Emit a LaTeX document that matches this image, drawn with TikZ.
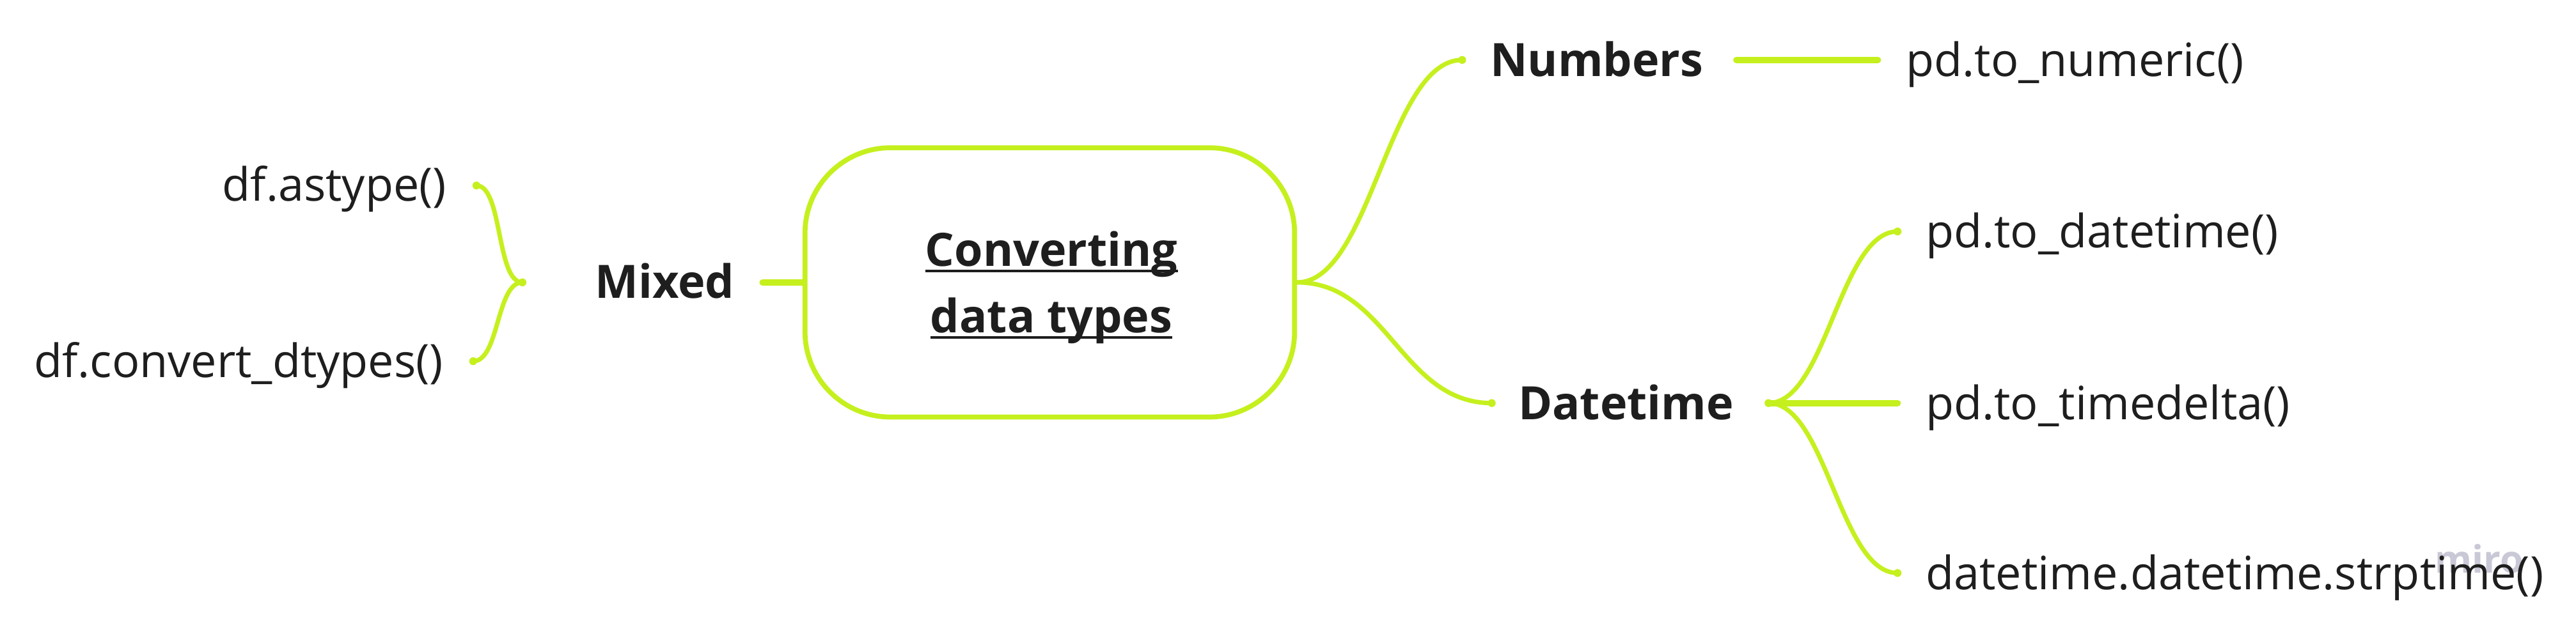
\documentclass[tikz,border=0pt]{standalone}
\usepackage{fontspec}
\setmainfont{Open Sans}
\definecolor{lime}{RGB}{197,240,30}
\definecolor{txt}{RGB}{30,30,30}
\definecolor{mirogray}{RGB}{200,200,214}
\newcommand\myul[1]{\setbox0\hbox{#1}\rlap{\rule[-4pt]{\wd0}{1.6pt}}\box0}
\begin{document}
\begin{tikzpicture}[x=1pt,y=1pt,
  leaf/.style={font=\fontsize{28}{34}\selectfont, inner sep=0pt, text=txt},
  branch/.style={font=\fontsize{28}{34}\selectfont\bfseries, inner sep=0pt, text=txt},
  link/.style={draw=lime, line width=2.7pt, line cap=round},
  thicklink/.style={draw=lime, line width=4pt, line cap=round},
  enddot/.style={fill=lime}]
\useasboundingbox (0,0) rectangle (1568,-386);
\fill[white] (0,0) rectangle (1568,-386);

% watermark
\node[font=\fontsize{23}{23}\selectfont\bfseries, text=mirogray, inner sep=0pt, anchor=base west] (miro) at (1482,-349) {miro};

% nodes
\node[leaf, anchor=base east] (astype) at (272,-122.6) {df.astype()};
\node[leaf, anchor=base east] (convert) at (270,-229.7) {df.convert\_dtypes()};
\node[branch, anchor=base west] (mixed) at (362,-181.6) {Mixed};
\node[draw=lime, line width=3pt, rounded corners=52pt, minimum width=298pt, minimum height=164pt] (center) at (639,-172) {};
\node[branch, anchor=base] (title1) at (640,-162) {\myul{Converting}};
\node[branch, anchor=base] (title2) at (640,-202.5) {\myul{data types}};
\node[branch, anchor=base west] (numbers) at (907,-46.5) {Numbers};
\node[leaf, anchor=base west] (numeric) at (1160,-46.5) {pd.to\_numeric()};
\node[branch, anchor=base west] (datetime) at (924,-255.5) {Datetime};
\node[leaf, anchor=base west] (todt) at (1172,-151) {pd.to\_datetime()};
\node[leaf, anchor=base west] (totd) at (1172,-255.5) {pd.to\_timedelta()};
\node[leaf, anchor=base west] (strp) at (1172,-359) {datetime.datetime.strptime()};

% connector end points
\coordinate (mixL) at ([shift={(-44,9.6)}]mixed.base west);
\coordinate (mixR) at ([shift={(17,9.6)}]mixed.base east);
\coordinate (astE) at ([shift={(18,9.6)}]astype.base east);
\coordinate (cnvE) at ([shift={(18,9.7)}]convert.base east);
\coordinate (numL) at ([shift={(-17,10)}]numbers.base west);
\coordinate (numR) at ([shift={(20,10)}]numbers.base east);
\coordinate (nmcL) at ([shift={(-17,10)}]numeric.base west);
\coordinate (dtL) at ([shift={(-16,10)}]datetime.base west);
\coordinate (dtR) at ([shift={(21,10)}]datetime.base east);
\coordinate (todtL) at ([shift={(-17,10)}]todt.base west);
\coordinate (totdL) at ([shift={(-17,10)}]totd.base west);
\coordinate (strpL) at ([shift={(-17,10)}]strp.base west);

% connectors
\draw[link] (mixL) .. controls +(-16,0) and +(16,0) .. (astE);
\draw[link] (mixL) .. controls +(-16,0) and +(16,0) .. (cnvE);
\draw[thicklink] (mixR) -- (center.west);
\draw[link] (center.east) .. controls +(45,0) and +(-45,0) .. (numL);
\draw[link] (center.east) .. controls +(55,0) and +(-55,0) .. (dtL);
\draw[thicklink] (numR) -- (nmcL);
\draw[link] (dtR) .. controls +(35,0) and +(-35,0) .. (todtL);
\draw[thicklink] (dtR) -- (totdL);
\draw[link] (dtR) .. controls +(35,0) and +(-35,0) .. (strpL);

% thickened ends
\foreach \p in {mixL,astE,cnvE,numL,dtL,todtL,strpL,dtR}
  \fill[enddot] (\p) circle (2.4);
\end{tikzpicture}
\end{document}
